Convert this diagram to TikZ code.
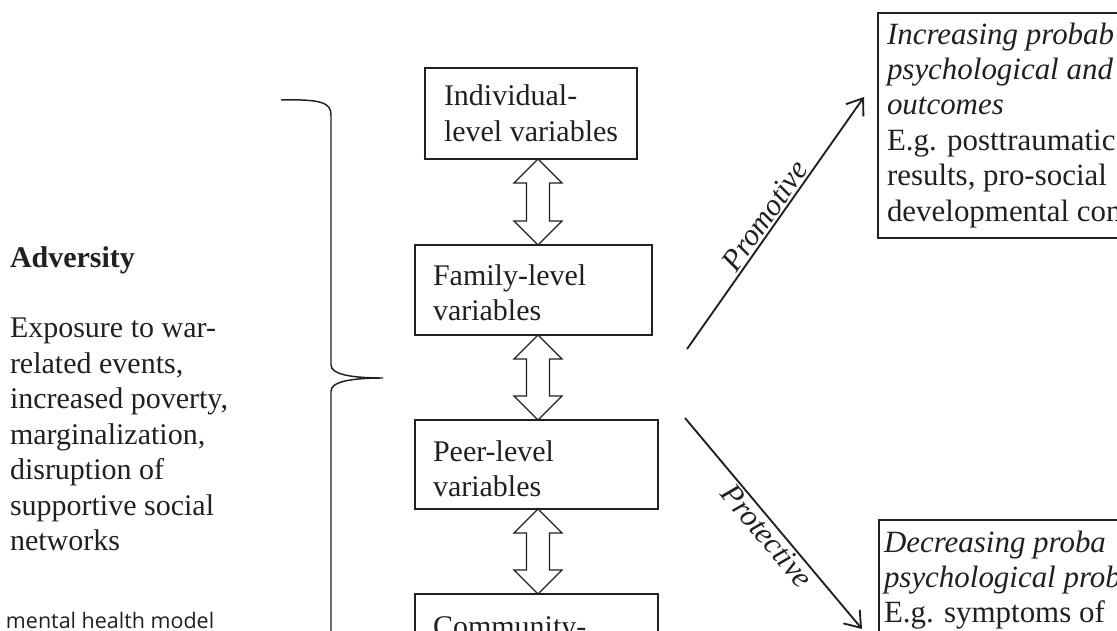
\documentclass[tikz,border=0pt]{standalone}
\usepackage{fontspec}
\setmainfont{Liberation Serif}
\newfontfamily\labsans{Open Sans}
\usetikzlibrary{arrows.meta,calc}
\definecolor{ink}{RGB}{35,31,32}
\newcommand\fl{\rule{0pt}{18.75pt}}
\newcommand\twoway[2]{\draw[hollow] (#1) -- ($(#1)+(24,24)$) -- ($(#1)+(11.5,24)$) -- ($(#2)+(11.5,-24)$) -- ($(#2)+(24,-24)$) -- (#2) -- ($(#2)+(-24,-24)$) -- ($(#2)+(-11.5,-24)$) -- ($(#1)+(-11.5,24)$) -- ($(#1)+(-24,24)$) -- cycle;}
\begin{document}
\begin{tikzpicture}[x=0.75pt,y=-0.75pt,
  every node/.style={inner sep=0pt, outer sep=0pt, text=ink},
  txt/.style={anchor=north west, align=left, font=\fontsize{22.5}{26.6}\selectfont},
  rtxt/.style={anchor=north west, align=left, font=\fontsize{23.2}{26.6}\selectfont},
  box/.style={draw=ink, line width=0.95pt, rectangle, anchor=north west},
  hollow/.style={draw=ink, line width=0.95pt, fill=white, line join=miter},
  flow/.style={draw=ink, line width=1.4pt, -{Straight Barb[length=11pt,width=16pt]}},
  tag/.style={font=\fontsize{23}{26.6}\selectfont\itshape, sloped},
  bracket/.style={draw=ink, line width=1.1pt}
]
\useasboundingbox (0,0) rectangle (1117,631);
\clip (0,0) rectangle (1117,631);

% left text
\node[txt] (adv) at (10,242) {\fl\textbf{Adversity}\\[26.6pt]Exposure to war-\\related events,\\increased poverty,\\marginalization,\\disruption of\\supportive social\\networks};
\node[anchor=base west, font=\labsans\fontsize{16.1}{19}\selectfont] (cap) at (6,628) {mental health model};

% brace
\draw[bracket] (281,100) .. controls (322,99) and (331,103) .. (331,115) -- (331,365)
  .. controls (331,374) and (350,378) .. (383,378)
  .. controls (350,378) and (331,382) .. (331,391) -- (331,641)
  .. controls (331,653) and (322,657) .. (281,656);

% level boxes
\node[box, minimum width=212*0.75pt, minimum height=91*0.75pt] (ind) at (425,68) {};
\node[box, minimum width=237*0.75pt, minimum height=90*0.75pt] (fam) at (415,245) {};
\node[box, minimum width=243*0.75pt, minimum height=89*0.75pt] (peer) at (415,420) {};
\node[box, minimum width=243*0.75pt, minimum height=80*0.75pt] (com) at (415,594) {};
\node[txt] (indt) at (444,81) {\fl Individual-\\level variables};
\node[txt] (famt) at (433,260) {\fl Family-level\\variables};
\node[txt] (peert) at (433,436) {\fl Peer-level\\variables};
\node[txt] (comt) at (433,611) {\fl Community-};

% hollow double arrows
\coordinate (ax) at (538,0);
\coordinate (a1t) at (ind.south -| ax);
\coordinate (a1b) at (fam.north -| ax);
\coordinate (a2t) at (fam.south -| ax);
\coordinate (a2b) at (peer.north -| ax);
\coordinate (a3t) at (peer.south -| ax);
\coordinate (a3b) at (com.north -| ax);
\twoway{a1t}{a1b}
\twoway{a2t}{a2b}
\twoway{a3t}{a3b}

% outcome boxes
\node[box, minimum width=400*0.75pt, minimum height=225*0.75pt] (pos) at (878,13) {};
\node[rtxt] (post) at (887,19) {\fl\textit{Increasing probab}\\\textit{psychological and}\\\textit{outcomes}\\E.g. posttraumatic\\results, pro-social\\developmental com};
\node[box, minimum width=400*0.75pt, minimum height=200*0.75pt] (neg) at (879,520) {};
\node[rtxt] (negt) at (884,527) {\fl\textit{Decreasing proba}\\\textit{psychological prob}\\E.g. symptoms of};

% pathways
\coordinate (p0) at (687,349);
\coordinate (p1) at (864,97);
\coordinate (q0) at (685,418);
\coordinate (q1) at (862,629);
\draw[flow] (p0) -- node[tag, above=2pt, pos=0.5] (promo) {Promotive} (p1);
\draw[flow] (q0) -- node[tag, below=2pt, pos=0.52] (prot) {Protective} (q1);
\end{tikzpicture}
\end{document}
